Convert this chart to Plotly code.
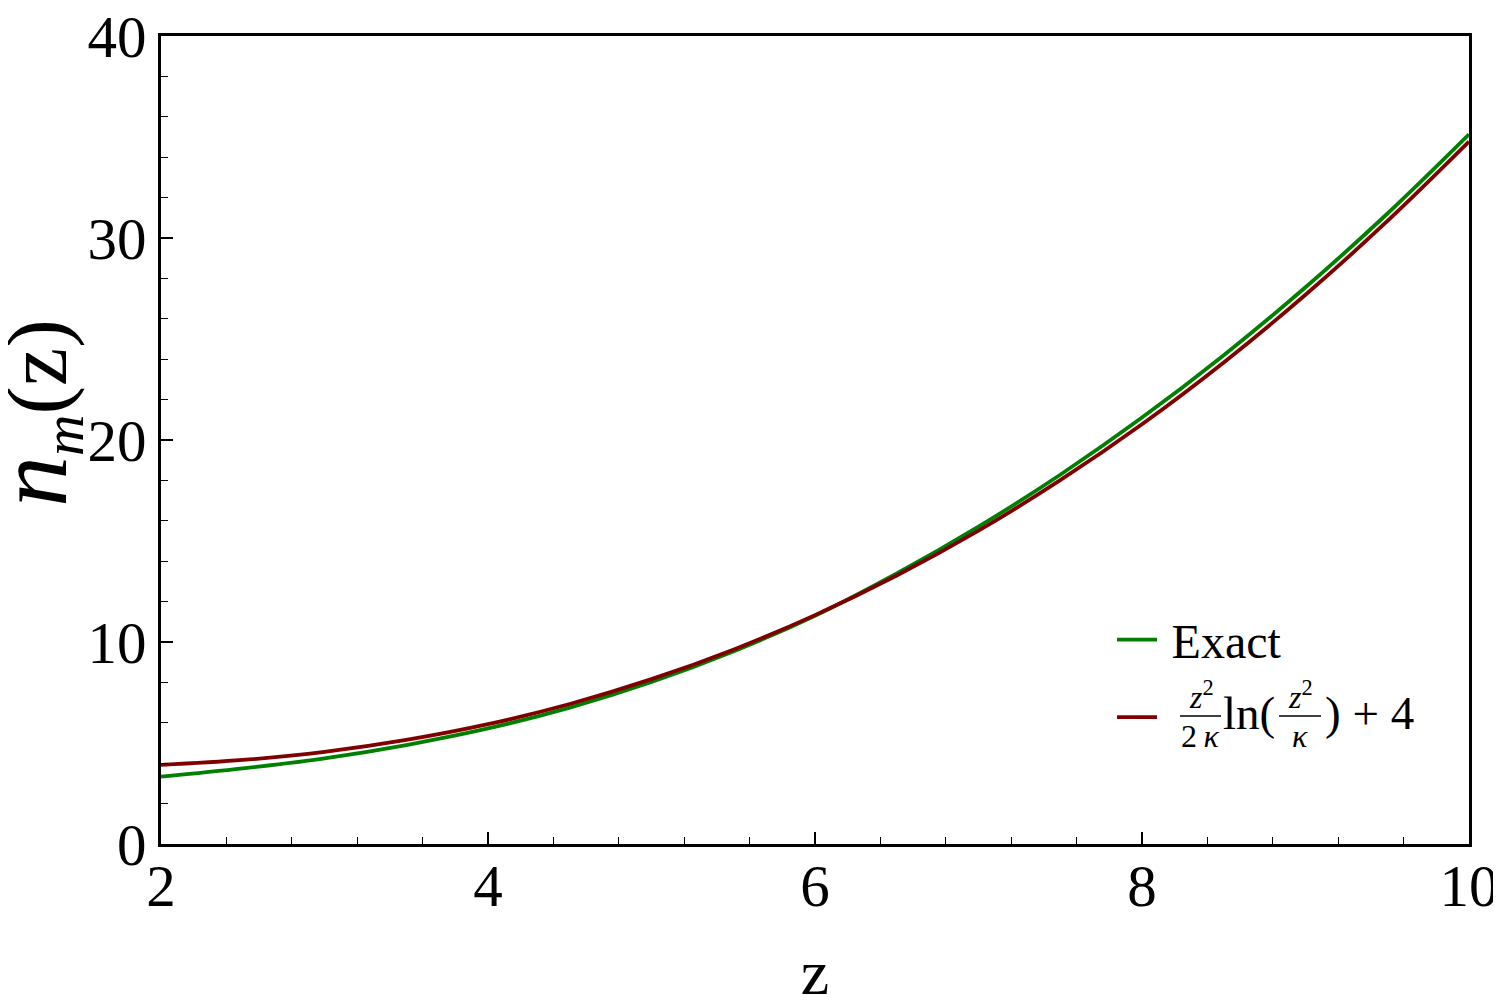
import plotly.graph_objects as go

# z values
z = [2.0, 2.5, 3.0, 3.5, 4.0, 4.5, 5.0, 5.5, 6.0, 6.5, 7.0, 7.5, 8.0, 8.5, 9.0, 9.5, 10.0]
# Exact curve (green)
n_exact = [3.33, 3.74, 4.24, 4.90, 5.72, 6.75, 8.02, 9.53, 11.30, 13.39, 15.71, 18.28,
           21.11, 24.20, 27.56, 31.20, 35.13]
# Approximation z^2/(2k) ln(z^2/k) + 4 (dark red)
n_approx = [3.92, 4.16, 4.56, 5.15, 5.93, 6.93, 8.16, 9.62, 11.33, 13.29, 15.51, 18.01,
            20.78, 23.84, 27.19, 30.83, 34.77]

x_ticks = [2, 4, 6, 8, 10]
y_ticks = [0, 10, 20, 30, 40]

FONT = "Liberation Serif, Times New Roman, serif"

# plot-area geometry (pixels)
L, T, W, H = 153, 28, 1308, 808


def px(xp):
    return (xp - 160) / 1308.0


def py(yp):
    return (843 - yp) / 808.0


fig = go.Figure()
fig.add_trace(go.Scatter(
    x=z, y=n_exact, mode="lines", name="\u2009Exact", legendgroup="a",
    line=dict(color="#008000", width=3.8, shape="spline"),
))
fig.add_trace(go.Scatter(
    x=z, y=n_approx, mode="lines", legendgroup="b", name=" ",
    line=dict(color="#800000", width=3.8, shape="spline"),
))

axis_common = dict(
    showgrid=False, zeroline=False, automargin=False,
    showline=True, linecolor="black", linewidth=2.5, mirror=True,
    ticks="inside", ticklen=12, tickwidth=1.5, tickcolor="black",
    tickfont=dict(family=FONT, size=59, color="black"),
    ticklabeloverflow="allow",
)

small = dict(family=FONT, size=32, color="black")
big = dict(family=FONT, size=47, color="black")

annotations = [
    # y-axis title n_m(z)
    dict(text="<span style='font-size:102px'><i>n</i></span><sub><i>m</i></sub>"
              "<span style='font-size:86px'>(z)</span>",
         textangle=-90, xref="paper", yref="paper", x=px(34), y=py(412),
         xanchor="center", yanchor="middle", showarrow=False,
         font=dict(family=FONT, size=82, color="black")),
    # legend formula: z^2/(2 kappa) ln(z^2/kappa) + 4
    dict(text="<i>z</i><sup>2</sup>", xref="paper", yref="paper", x=px(1200), y=py(694),
         xanchor="center", yanchor="middle", showarrow=False, font=small),
    dict(text="2\u2009<i>κ</i>", xref="paper", yref="paper", x=px(1199), y=py(735),
         xanchor="center", yanchor="middle", showarrow=False, font=small),
    dict(text="ln(", xref="paper", yref="paper", x=px(1220), y=py(712),
         xanchor="left", yanchor="middle", showarrow=False, font=big),
    dict(text="<i>z</i><sup>2</sup>", xref="paper", yref="paper", x=px(1299), y=py(694),
         xanchor="center", yanchor="middle", showarrow=False, font=small),
    dict(text="<i>κ</i>", xref="paper", yref="paper", x=px(1299), y=py(735),
         xanchor="center", yanchor="middle", showarrow=False, font=small),
    dict(text=") + 4", xref="paper", yref="paper", x=px(1322), y=py(712),
         xanchor="left", yanchor="middle", showarrow=False, font=big),
]

shapes = [
    dict(type="line", xref="paper", yref="paper", x0=px(1179), x1=px(1220), y0=py(715), y1=py(715),
         line=dict(color="black", width=1.6)),
    dict(type="line", xref="paper", yref="paper", x0=px(1278), x1=px(1320), y0=py(715), y1=py(715),
         line=dict(color="black", width=1.6)),
]

fig.update_layout(
    width=1501, height=1000,
    margin=dict(l=L, r=1501 - L - W, t=T, b=1000 - T - H),
    paper_bgcolor="white", plot_bgcolor="white",
    font=dict(family=FONT, color="black"),
    xaxis=dict(
        range=[2, 10], tickvals=x_ticks, ticktext=[str(v) for v in x_ticks],
        minor=dict(dtick=0.4, tick0=2, ticks="inside", ticklen=7, tickwidth=1.2, tickcolor="black"),
        title=dict(text="z", font=dict(family=FONT, size=64, color="black"), standoff=32),
        ticklabelstandoff=-12,
        **axis_common,
    ),
    yaxis=dict(
        range=[0, 40], tickvals=y_ticks, ticktext=[str(v) for v in y_ticks],
        minor=dict(dtick=2, tick0=0, ticks="inside", ticklen=7, tickwidth=1.2, tickcolor="black"),
        **axis_common,
    ),
    legend=dict(
        x=px(1111), y=py(601), xanchor="left", yanchor="top",
        bgcolor="rgba(0,0,0,0)", borderwidth=0,
        font=dict(family=FONT, size=48, color="black"),
        tracegroupgap=12, itemwidth=40,
    ),
    annotations=annotations,
    shapes=shapes,
)

fig.write_html("out.html")
